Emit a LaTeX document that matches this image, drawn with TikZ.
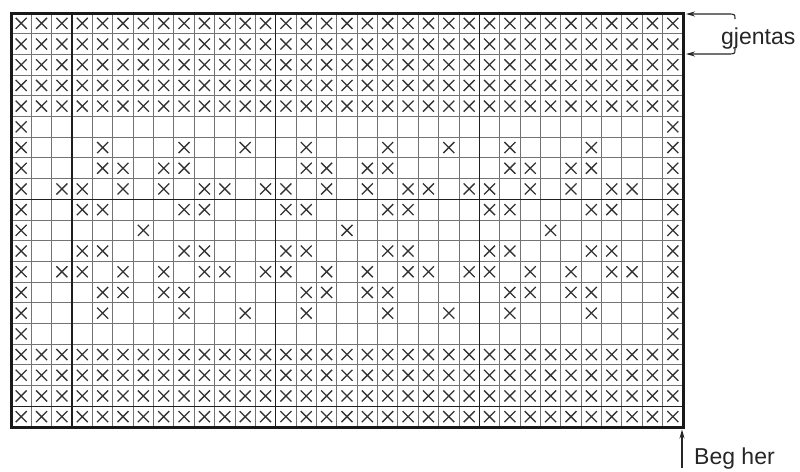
\documentclass[tikz,border=0pt]{standalone}
\usepackage{fontspec}
\setmainfont{Liberation Sans}
\usetikzlibrary{arrows.meta}
\begin{document}
\begin{tikzpicture}[x=1pt,y=-1pt,
  gridline/.style={draw=black!55,line width=0.9pt},
  majorline/.style={draw=black!88,line width=1.5pt},
  border/.style={draw=black!90,line width=3pt,line join=miter},
  xmk/.style={draw=black!80,line width=1.3pt},
  ann/.style={draw=black!85,line width=1.1pt},
  lbl/.style={text=black!85,font=\fontsize{23}{26}\selectfont,inner sep=0pt}]
\useasboundingbox (0,0) rectangle (800,471);
\def\Lx{11}\def\Ty{13}\def\Rx{683}\def\By{427}
\def\cw{20.3636}\def\rh{20.7}
% thin grid
\foreach \i in {1,...,32}
  \draw[gridline] ({\Lx+\i*\cw},\Ty) -- ({\Lx+\i*\cw},\By);
\foreach \j in {1,...,19}
  \draw[gridline] (\Lx,{\Ty+\j*\rh}) -- (\Rx,{\Ty+\j*\rh});
% heavier lines
\foreach \i in {3,13,23}
  \draw[majorline] ({\Lx+\i*\cw},\Ty) -- ({\Lx+\i*\cw},\By);
\foreach \j in {9,19}
  \draw[majorline] (\Lx,{\Ty+\j*\rh}) -- (\Rx,{\Ty+\j*\rh});
% X marks
\newcommand\chartx[2]{%
  \draw[xmk] ({\Lx+(#1-0.5)*\cw-5.5},{\Ty+(#2-0.5)*\rh-5.5}) -- ++(11,11)
             ++(-11,0) -- ++(11,-11);}
\foreach \r in {1,2,3,4,5,17,18,19,20}
  \foreach \c in {1,...,33} {\chartx{\c}{\r}}
\foreach \r/\cols in {6/{1,33},16/{1,33},
    7/{1,5,9,12,15,19,22,25,29,33},15/{1,5,9,12,15,19,22,25,29,33},
    8/{1,5,6,8,9,15,16,18,19,25,26,28,29,33},14/{1,5,6,8,9,15,16,18,19,25,26,28,29,33},
    9/{1,3,4,6,8,10,11,13,14,16,18,20,21,23,24,26,28,30,31,33},
    13/{1,3,4,6,8,10,11,13,14,16,18,20,21,23,24,26,28,30,31,33},
    10/{1,4,5,9,10,14,15,19,20,24,25,29,30,33},12/{1,4,5,9,10,14,15,19,20,24,25,29,30,33},
    11/{1,7,17,27,33}}
  \foreach \c in \cols {\chartx{\c}{\r}}
% outer border
\draw[border] (\Lx,\Ty) rectangle (\Rx,\By);
% annotations
\coordinate (g1) at (686,14);
\coordinate (g2) at (686,54);
\coordinate (b1) at (682,429.5);
\coordinate (b0) at (682,468);
\node[lbl,anchor=base west] (gj) at (721,44) {gjentas};
\node[lbl,anchor=base west] (beg) at (694,464) {Beg her};
\draw[ann,-{Stealth[length=9pt,width=5pt]}] (735,19) .. controls (735,14) .. (727,14) -- (g1);
\draw[ann,-{Stealth[length=9pt,width=5pt]}] (735,49) .. controls (735,54) .. (727,54) -- (g2);
\draw[ann,-{Stealth[length=9pt,width=5pt]}] (b0) -- (b1);
\end{tikzpicture}
\end{document}
